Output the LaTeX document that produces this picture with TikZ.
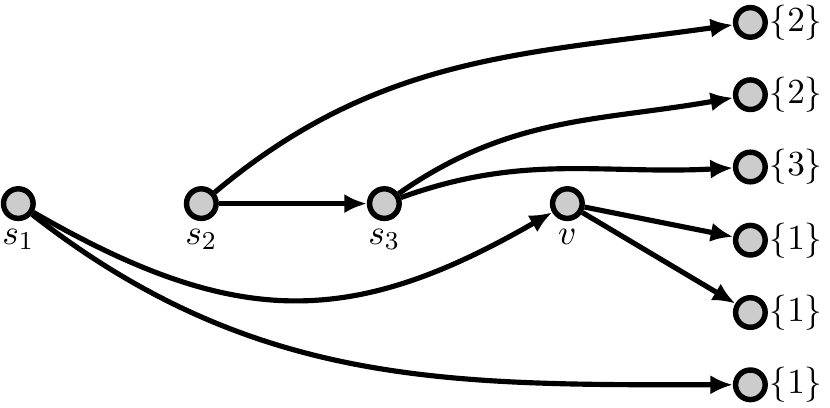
\documentclass[tikz,border=0pt]{standalone}
\usepackage{amsmath, amssymb}
\usepackage{tikz}
\usetikzlibrary{arrows.meta}

\begin{document}
\begin{tikzpicture}[
	font=\fontsize{11}{13}\selectfont,
	vertex/.style={circle, draw=black, fill=black!20, line width=1.7pt, inner sep=0pt, minimum size=9.2pt},
	edge/.style={line width=1.6pt, -{Latex[length=7pt,width=6pt]}}
]
	\useasboundingbox (-0.2,-2.225) rectangle (8.87,2.225);

	\node[vertex, label={[label distance=-1pt]below:$s_1$}] (s1) at (0,0) {};
	\node[vertex, label={[label distance=-1pt]below:$s_2$}] (s2) at (2,0) {};
	\node[vertex, label={[label distance=-1pt]below:$s_3$}] (s3) at (4,0) {};
	\node[vertex, label={[label distance=-1pt]below:$v$}] (v) at (6,0) {};
	\foreach \i/\y/\c in {1/1.98/2, 2/1.19/2, 3/0.4/3, 4/-0.4/1, 5/-1.19/1, 6/-1.98/1} {
		\node[vertex, label={[label distance=-3pt]right:$\{\c\}$}] (t\i) at (8,\y) {};
	}

	\draw[edge] (s2) -- (s3);
	\draw[edge] (s2) to[out=40, in=188] (t1);
	\draw[edge] (s3) to[out=35, in=190] (t2);
	\draw[edge] (s3) to[out=20, in=183] (t3);
	\draw[edge] (v) -- (t4);
	\draw[edge] (v) -- (t5);
	\draw[edge] (s1) to[out=-30, in=-150, looseness=1.15] (v);
	\draw[edge] (s1) to[out=-38, in=180] (t6);
\end{tikzpicture}
\end{document}
